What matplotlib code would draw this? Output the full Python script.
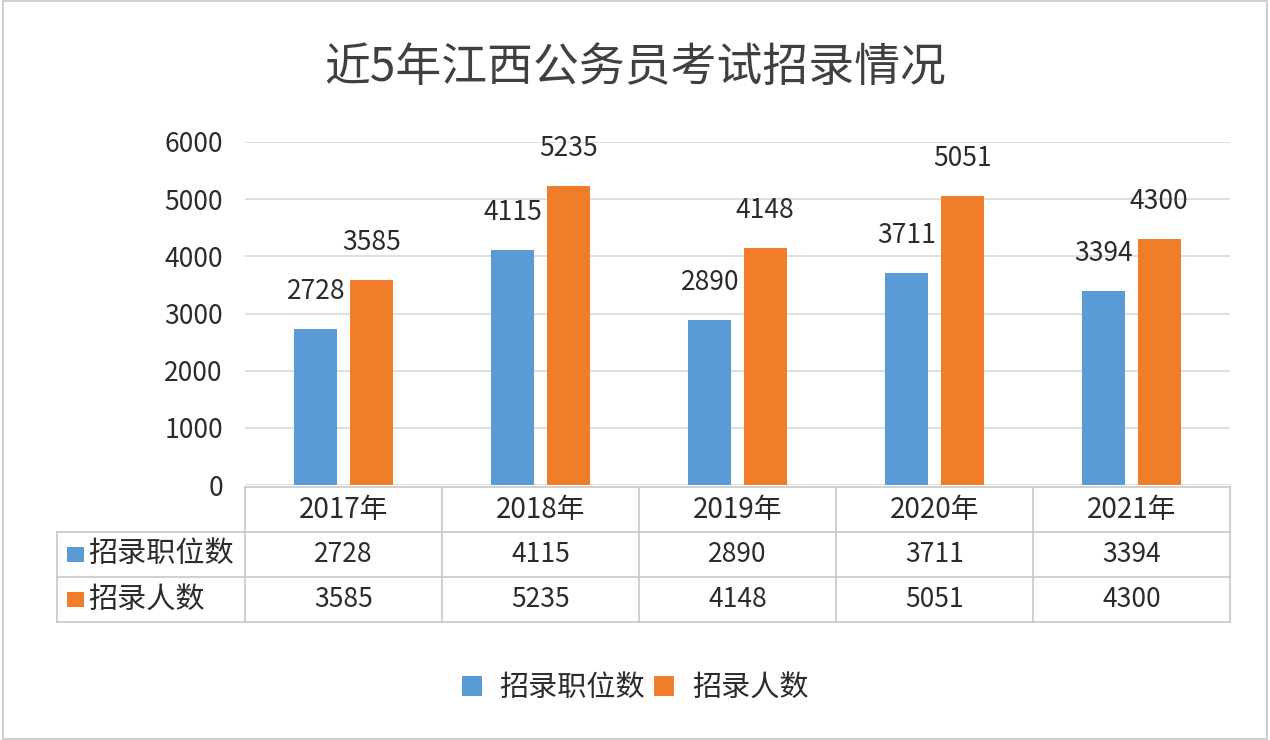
import matplotlib
matplotlib.use('Agg')
import matplotlib.pyplot as plt
from matplotlib.patches import Rectangle, Patch
import numpy as np

plt.rcParams['font.family'] = ['Noto Sans CJK SC', 'DejaVu Sans']

# data
years = ['2017年', '2018年', '2019年', '2020年', '2021年']
series_names = ['招录职位数', '招录人数']
positions = [2728, 4115, 2890, 3711, 3394]
recruits = [3585, 5235, 4148, 5051, 4300]
title = '近5年江西公务员考试招录情况'

colors = ['#5B9BD5', '#F07D2A']
dark = '#2b2b2b'
W, H = 1270, 740

fig = plt.figure(figsize=(12.7, 7.4), dpi=100)
fig.patch.set_facecolor('white')
fig.add_artist(Rectangle((0.002, 0.002), 0.996, 0.996, transform=fig.transFigure,
                         fill=False, edgecolor='#c8c8c8', linewidth=1.2))

# main axes (pixel layout -> figure fraction)
x0, x1 = 245, 1230
y0, y1 = 485, 142
ax = fig.add_axes([x0 / W, 1 - y0 / H, (x1 - x0) / W, (y0 - y1) / H])

x = np.arange(len(years))
bw = 0.218
off = 0.14
for vals, c, d in [(positions, colors[0], -off), (recruits, colors[1], off)]:
    bars = ax.bar(x + d, vals, width=bw, color=c, zorder=3)
    for b, v in zip(bars, vals):
        ax.annotate(str(v), (b.get_x() + b.get_width() / 2, v), xytext=(0, 27),
                    textcoords='offset points', ha='center', va='center',
                    fontsize=19, color=dark)

ax.set_xlim(-0.5, len(years) - 0.5)
ax.set_ylim(0, 6000)
ax.set_yticks(range(0, 6001, 1000))
ax.set_yticklabels([str(v) for v in range(0, 6001, 1000)], fontsize=19, color=dark)
ax.tick_params(axis='y', length=0, pad=16)
ax.set_xticks([])
ax.grid(axis='y', color='#d9d9d9', linewidth=1.2, zorder=0)
for s in ax.spines.values():
    s.set_visible(False)

# data table under the axes
tx0, ty0, ty1 = 57, 487, 622
lab_w = (x0 - tx0) / ((x1 - x0) / len(years))
tax = fig.add_axes([tx0 / W, 1 - ty1 / H, (x1 - tx0) / W, (ty1 - ty0) / H])
tax.set_xlim(-0.5 - lab_w, len(years) - 0.5)
tax.set_ylim(3, 0)
tax.axis('off')
lc = '#c8c8c8'
lw = 1.2
tax.plot([-0.5, len(years) - 0.5], [0, 0], color=lc, lw=lw, clip_on=False)
for r in [1, 2, 3]:
    tax.plot([-0.5 - lab_w, len(years) - 0.5], [r, r], color=lc, lw=lw, clip_on=False)
tax.plot([-0.5 - lab_w] * 2, [1, 3], color=lc, lw=lw, clip_on=False)
for i in range(len(years) + 1):
    tax.plot([i - 0.5] * 2, [0, 3], color=lc, lw=lw, clip_on=False)

for i, yl in enumerate(years):
    tax.text(i, 0.5, yl, ha='center', va='center', fontsize=20, color=dark)
for r, (name, vals) in enumerate(zip(series_names, [positions, recruits])):
    tax.add_patch(Rectangle((-0.5 - lab_w + 0.05, r + 1.5 - 0.17), 0.085, 0.34,
                            facecolor=colors[r], edgecolor='none'))
    tax.text(-0.5 - lab_w + 0.16, r + 1.5, name, ha='left', va='center',
             fontsize=21, color=dark)
    for i, v in enumerate(vals):
        tax.text(i, r + 1.5, str(v), ha='center', va='center', fontsize=19, color=dark)

# title
fig.text(0.5, 1 - 68 / H, title, ha='center', va='center', fontsize=33, color='#404040')

# legend
handles = [Patch(facecolor=c, edgecolor='none') for c in colors]
fig.legend(handles, series_names, loc='center', bbox_to_anchor=(0.5, 1 - 688 / H),
           ncol=2, frameon=False, fontsize=21, handlelength=0.7, handleheight=0.7,
           handletextpad=0.6, columnspacing=0.3, labelcolor=dark)

fig.savefig('out.png', dpi=100)
